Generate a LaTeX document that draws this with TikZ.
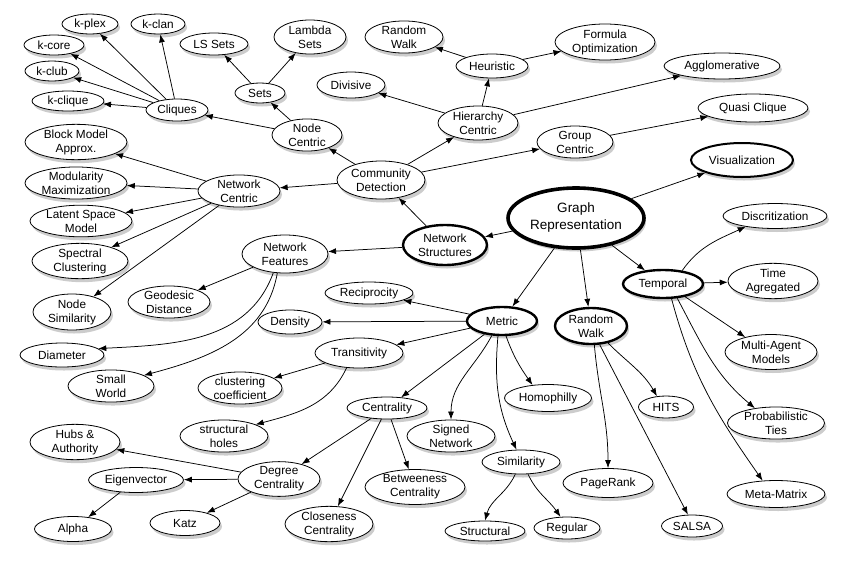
\documentclass[tikz,border=0pt]{standalone}
\usepackage{fontspec}
\setmainfont{Liberation Sans}
\usetikzlibrary{shapes.geometric,arrows.meta,shadows}
\begin{document}
\begin{tikzpicture}[x=1pt,y=-1pt,
  nd/.style={ellipse, draw, fill=white, line width=0.8pt, inner sep=0pt, align=center,
    font=\fontsize{11.8}{14}\selectfont,
    drop shadow={shadow xshift=2pt, shadow yshift=-3.5pt, opacity=0.4}},
  bnd/.style={nd, line width=2.4pt},
  arr/.style={-{Latex[length=8pt,width=6pt]}, line width=0.75pt},
  sz/.style 2 args={minimum width=#1pt, minimum height=#2pt}]
\useasboundingbox (0,0) rectangle (845,568);
\fill[white] (0,0) rectangle (845,568);

% ---------- nodes ----------
\node[bnd, sz={136}{60}, line width=3.6pt, font=\fontsize{13.5}{17}\selectfont] (gr) at (576,218) {Graph\\Representation};

\node[nd, sz={56}{20}] (kplex) at (90,24) {k-plex};
\node[nd, sz={54}{20}] (kclan) at (158,24) {k-clan};
\node[nd, sz={60}{20}] (kcore) at (54,45) {k-core};
\node[nd, sz={54}{20}] (kclub) at (52,71) {k-club};
\node[nd, sz={72}{20}] (kclique) at (68,101) {k-clique};
\node[nd, sz={62}{22}] (cliques) at (177,110) {Cliques};
\node[nd, sz={68}{22}] (lssets) at (214,44) {LS Sets};
\node[nd, sz={50}{20}] (sets) at (260,93) {Sets};
\node[nd, sz={72}{34}] (lambda) at (310,37) {Lambda\\Sets};
\node[nd, sz={70}{32}] (nodec) at (307,135) {Node\\Centric};
\node[nd, sz={78}{32}] (rwtop) at (404,37) {Random\\Walk};
\node[nd, sz={72}{24}] (heur) at (492,66) {Heuristic};
\node[nd, sz={68}{26}] (divis) at (351,85) {Divisive};
\node[nd, sz={80}{34}] (hier) at (478,123) {Hierarchy\\Centric};
\node[nd, sz={88}{38}] (comm) at (381,180) {Community\\Detection};
\node[nd, sz={100}{36}] (formula) at (605,42) {Formula\\Optimization};
\node[nd, sz={116}{26}] (agglo) at (722,66) {Agglomerative};
\node[nd, sz={110}{28}] (quasi) at (753,108) {Quasi Clique};
\node[nd, sz={76}{32}] (group) at (575,142) {Group\\Centric};
\node[bnd, sz={102}{34}, line width=2pt] (vis) at (742,160) {Visualization};

\node[nd, sz={102}{30}] (blockm) at (76,142) {Block Model\\Approx.};
\node[nd, sz={102}{30}] (modul) at (76,183) {Modularity\\Maximization};
\node[nd, sz={82}{32}] (netc) at (239,191) {Network\\Centric};
\node[nd, sz={102}{28}] (latent) at (81,221) {Latent Space\\Model};
\node[nd, sz={96}{34}] (spectral) at (80,261) {Spectral\\Clustering};
\node[nd, sz={78}{36}] (nodesim) at (72,312) {Node\\Similarity};
\node[nd, sz={82}{30}] (geodesic) at (169,302) {Geodesic\\Distance};
\node[nd, sz={86}{38}] (netf) at (285,254) {Network\\Features};
\node[nd, sz={84}{24}] (diameter) at (62,355) {Diameter};
\node[nd, sz={86}{32}] (small) at (111,386) {Small\\World};

\node[bnd, sz={84}{40}] (ns) at (445,245) {Network\\Structures};
\node[nd, sz={88}{22}] (recip) at (369,293) {Reciprocity};
\node[nd, sz={64}{24}] (density) at (290,322) {Density};
\node[bnd, sz={70}{28}] (metric) at (502,321) {Metric};
\node[nd, sz={88}{30}] (trans) at (359,353) {Transitivity};
\node[bnd, sz={72}{36}] (rwmid) at (591,326) {Random\\Walk};
\node[bnd, sz={80}{28}] (temporal) at (663,284) {Temporal};
\node[nd, sz={104}{25}] (discr) at (775,216) {Discritization};
\node[nd, sz={90}{35}] (timeag) at (773,281) {Time\\Agregated};
\node[nd, sz={92}{35}] (multi) at (771,352) {Multi-Agent\\Models};

\node[nd, sz={84}{32}] (clust) at (240,388) {clustering\\coefficient};
\node[nd, sz={88}{32}] (struct) at (224,436) {structural\\holes};
\node[nd, sz={90}{31}] (hubs) at (75,442) {Hubs \&\\Authority};
\node[nd, sz={95}{25}] (eigen) at (136,480) {Eigenvector};
\node[nd, sz={77}{25}] (alpha) at (73,529) {Alpha};
\node[nd, sz={70}{25}] (katz) at (185,523) {Katz};
\node[nd, sz={82}{32}] (degree) at (279,479) {Degree\\Centrality};
\node[nd, sz={80}{22}] (central) at (387,408) {Centrality};
\node[nd, sz={88}{32}] (signed) at (451,436) {Signed\\Network};
\node[nd, sz={100}{35}] (betw) at (415,487) {Betweeness\\Centrality};
\node[nd, sz={88}{35}] (close) at (329,524) {Closeness\\Centrality};
\node[nd, sz={87}{27}] (homo) at (548,398) {Homophilly};
\node[nd, sz={78}{24}] (simil) at (521,462) {Similarity};
\node[nd, sz={80}{20}] (structural) at (485,531) {Structural};
\node[nd, sz={66}{22}] (regular) at (567,528) {Regular};
\node[nd, sz={55}{22}] (hits) at (666,407) {HITS};
\node[nd, sz={90}{29}] (pagerank) at (608,483) {PageRank};
\node[nd, sz={61}{22}] (salsa) at (692,526) {SALSA};
\node[nd, sz={97}{30}] (prob) at (776,423) {Probabilistic\\Ties};
\node[nd, sz={98}{27}] (meta) at (776,494) {Meta-Matrix};

% ---------- connectors ----------
\draw[arr] (gr) -- (ns);
\draw[arr] (gr) -- (vis);
\draw[arr] (gr) -- (temporal);
\draw[arr] (gr) -- (rwmid);
\draw[arr] (gr) -- (metric);

\draw[arr] (ns) -- (comm);
\draw[arr] (ns) -- (netf);
\draw[arr] (comm) -- (nodec);
\draw[arr] (comm) -- (hier);
\draw[arr] (comm) -- (group);
\draw[arr] (comm) -- (netc);
\draw[arr] (nodec) -- (sets);
\draw[arr] (nodec) -- (cliques);
\draw[arr] (sets) -- (lssets);
\draw[arr] (sets) -- (lambda);
\foreach \t in {kplex,kclan,kcore,kclub,kclique} \draw[arr] (cliques) -- (\t);
\draw[arr] (hier) -- (divis);
\draw[arr] (hier) -- (heur);
\draw[arr] (hier) -- (agglo);
\draw[arr] (heur) -- (rwtop);
\draw[arr] (heur) -- (formula);
\draw[arr] (group) -- (quasi);
\foreach \t in {blockm,modul,latent,spectral,nodesim} \draw[arr] (netc) -- (\t);

\draw[arr] (netf) -- (geodesic);
\draw[arr] (netf.-122) to[out=-110,in=3] (diameter.10);
\draw[arr] (netf.-112) to[out=-100,in=15] (small.18);

\draw[arr] (metric) -- (recip);
\draw[arr] (metric) -- (density);
\draw[arr] (metric) -- (trans);
\draw[arr] (metric) -- (central);
\draw[arr] (metric.-125) to[out=-118,in=90] (signed.north);
\draw[arr] (metric.-105) to[out=-95,in=115] (simil.110);
\draw[arr] (metric.-75) to[out=-70,in=125] (homo.140);

\draw[arr] (trans) -- (clust);
\draw[arr] (trans.-130) to[out=-115,in=15] (struct.20);

\draw[arr] (central) -- (degree);
\draw[arr] (central) -- (close);
\draw[arr] (central) -- (betw);
\draw[arr] (degree) -- (hubs);
\draw[arr] (degree) -- (eigen);
\draw[arr] (degree) -- (katz);
\draw[arr] (eigen) -- (alpha);

\draw[arr] (simil.-115) to[out=-115,in=75] (structural.north);
\draw[arr] (simil.-60) to[out=-65,in=125] (regular.120);

\draw[arr] (rwmid.-45) to[out=-45,in=120] (hits.130);
\draw[arr] (rwmid.-80) to[out=-85,in=90] (pagerank.north);
\draw[arr] (rwmid.-65) -- (salsa.110);

\draw[arr] (temporal.35) to[out=55,in=205] (discr.-160);
\draw[arr] (temporal) -- (timeag);
\draw[arr] (temporal.-30) -- (multi.150);
\draw[arr] (temporal.-45) to[out=-62,in=140] (prob.145);
\draw[arr] (temporal.-60) to[out=-75,in=125] (meta.135);
\end{tikzpicture}
\end{document}
